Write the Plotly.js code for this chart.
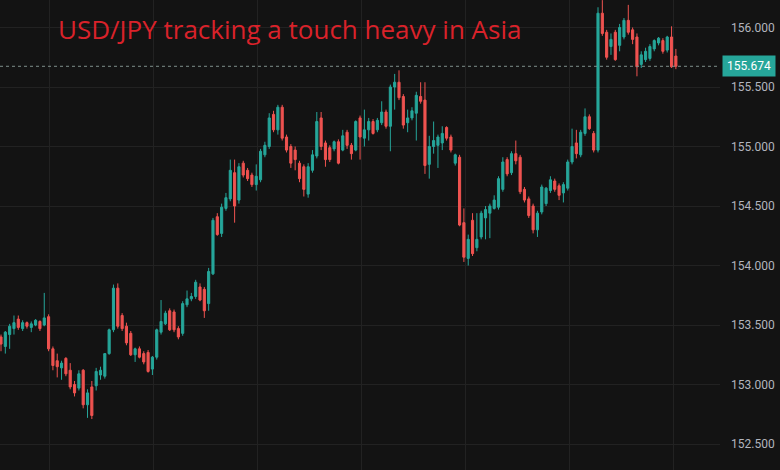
<!DOCTYPE html>
<html>
<head>
<meta charset="utf-8">
<script src="https://cdn.plot.ly/plotly-3.0.1.min.js"></script>
<style>
  html, body { margin: 0; padding: 0; background: #131313; }
  #chart { width: 780px; height: 470px; }
</style>
</head>
<body>
<div id="chart"></div>
<script>
const titleText = "USD/JPY tracking a touch heavy in Asia";
const priceTicks = [152.5, 153.0, 153.5, 154.0, 154.5, 155.0, 155.5, 156.0];

const open = [
153.40,153.32,153.42,153.47,153.55,153.47,153.52,153.48,153.50,153.53,
153.50,153.57,153.30,153.20,153.14,153.22,153.12,153.00,152.97,153.12,
152.83,152.98,152.99,153.08,153.07,153.26,153.46,153.81,153.58,153.49,
153.43,153.25,153.30,153.26,153.27,153.13,153.23,153.44,153.51,153.62,
153.61,153.47,153.43,153.67,153.72,153.74,153.82,153.80,153.68,153.93,
154.41,154.27,154.48,154.56,154.78,154.55,154.86,154.80,154.76,154.68,
154.72,154.93,155.00,155.27,155.14,155.33,155.08,155.00,154.97,154.86,
154.83,154.60,154.80,154.92,155.24,155.03,154.99,154.98,155.04,154.97,
155.12,155.01,154.97,155.24,155.07,155.14,155.21,155.14,155.20,155.29,
155.17,155.50,155.54,155.42,155.20,155.24,155.28,155.42,155.39,154.85,
155.00,155.01,155.03,155.16,155.08,154.86,154.91,154.36,154.06,154.38,
154.15,154.24,154.40,154.44,154.48,154.49,154.64,154.89,154.78,154.94,
154.91,154.64,154.56,154.50,154.30,154.45,154.52,154.63,154.71,154.67,
154.61,154.65,154.87,155.03,154.93,155.11,155.25,155.11,154.97,156.12,
155.96,155.84,155.96,155.85,155.92,156.06,155.98,155.92,155.69,155.73,
155.74,155.82,155.87,155.89,155.81,155.92,155.76];

const high = [
153.42,153.45,153.51,153.58,153.58,153.54,153.53,153.53,153.55,153.54,
153.77,153.59,153.32,153.26,153.20,153.23,153.18,153.03,153.12,153.13,
152.96,153.03,153.14,153.15,153.26,153.47,153.84,153.85,153.60,153.52,
153.45,153.31,153.32,153.28,153.29,153.24,153.47,153.71,153.62,153.64,
153.63,153.49,153.70,153.79,153.77,153.88,153.85,153.82,153.98,154.40,
154.44,154.52,154.61,154.89,154.89,154.86,154.88,154.82,154.78,154.85,
154.98,155.04,155.28,155.30,155.35,155.35,155.10,155.02,155.00,154.88,
154.85,154.86,154.97,155.29,155.29,155.05,155.01,155.05,155.06,155.14,
155.14,155.03,155.22,155.26,155.31,155.24,155.23,155.24,155.38,155.31,
155.52,155.61,155.64,155.44,155.31,155.33,155.46,155.54,155.54,155.09,
155.21,155.10,155.17,155.17,155.10,154.94,154.93,154.48,154.26,154.44,
154.44,154.46,154.50,154.52,154.59,154.75,154.91,154.91,154.96,155.05,
154.93,154.66,154.58,154.52,154.46,154.68,154.66,154.75,154.73,154.69,
154.70,154.89,155.15,155.14,155.14,155.32,155.27,155.13,156.17,156.23,
155.98,155.95,155.98,156.03,156.08,156.19,156.00,155.95,155.80,155.83,
155.86,155.90,155.92,155.91,155.93,156.01,155.82];

const low = [
153.28,153.26,153.30,153.42,153.46,153.45,153.47,153.44,153.49,153.45,
153.49,153.28,153.12,153.06,153.04,153.07,152.96,152.90,152.95,152.80,
152.72,152.71,152.95,153.04,153.05,153.25,153.44,153.47,153.45,153.33,
153.24,153.19,153.22,153.17,153.10,153.08,153.21,153.42,153.50,153.45,
153.44,153.38,153.41,153.65,153.70,153.72,153.70,153.56,153.62,153.92,
154.25,154.24,154.46,154.54,154.36,154.52,154.74,154.71,154.66,154.63,
154.70,154.91,154.98,155.12,155.10,155.05,154.95,154.82,154.80,154.70,
154.58,154.57,154.78,154.90,154.97,154.83,154.87,154.96,154.85,154.96,
154.98,154.89,154.96,154.89,155.00,155.05,155.10,155.12,155.18,155.15,
154.96,155.31,155.39,155.15,155.12,155.22,155.05,155.36,154.77,154.73,
154.94,154.82,154.97,155.05,154.95,154.84,154.33,154.03,154.00,154.08,
154.12,154.22,154.22,154.23,154.47,154.47,154.62,154.75,154.76,154.85,
154.60,154.53,154.40,154.27,154.24,154.43,154.50,154.61,154.62,154.55,
154.53,154.63,154.85,154.90,154.91,155.09,155.14,154.95,154.95,155.93,
155.73,155.77,155.72,155.80,155.90,155.94,155.86,155.59,155.66,155.71,
155.72,155.80,155.85,155.78,155.79,155.66,155.65];

const close = [
153.34,153.44,153.49,153.52,153.48,153.52,153.49,153.51,153.54,153.47,
153.56,153.30,153.16,153.15,153.18,153.09,152.98,152.93,153.09,152.83,
152.93,152.74,153.11,153.12,153.26,153.46,153.81,153.49,153.47,153.35,
153.25,153.30,153.23,153.19,153.11,153.23,153.46,153.53,153.60,153.46,
153.46,153.40,153.68,153.72,153.74,153.86,153.71,153.62,153.95,154.38,
154.26,154.49,154.57,154.80,154.50,154.83,154.76,154.73,154.68,154.75,
154.96,155.01,155.24,155.14,155.33,155.07,154.97,154.86,154.89,154.73,
154.64,154.83,154.93,155.21,155.00,154.89,154.89,155.04,154.86,155.09,
155.01,154.94,155.21,155.08,155.14,155.21,155.11,155.22,155.29,155.17,
155.50,155.54,155.41,155.18,155.24,155.30,155.43,155.38,154.84,155.00,
155.05,155.08,155.11,155.07,154.97,154.93,154.34,154.07,154.22,154.10,
154.22,154.44,154.47,154.50,154.55,154.73,154.87,154.77,154.94,154.88,
154.62,154.55,154.42,154.30,154.44,154.66,154.65,154.72,154.64,154.59,
154.68,154.87,155.00,154.94,155.12,155.25,155.15,154.97,156.12,155.95,
155.75,155.90,155.73,156.00,156.06,155.96,155.90,155.67,155.77,155.80,
155.84,155.89,155.91,155.80,155.92,155.67,155.674];

const bar = close.map((_, i) => i);
const lastPrice = close[close.length - 1];

const UP = '#26a69a', DOWN = '#ef5350';

const trace = {
  type: 'candlestick',
  x: bar, open: open, high: high, low: low, close: close,
  increasing: { line: { color: UP, width: 1 }, fillcolor: UP },
  decreasing: { line: { color: DOWN, width: 1 }, fillcolor: DOWN },
  whiskerwidth: 0,
  hoverinfo: 'skip'
};

const layout = {
  width: 780, height: 470,
  margin: { l: 0, r: 60, t: 0, b: 0, pad: 0 },
  paper_bgcolor: '#131313',
  plot_bgcolor: '#131313',
  showlegend: false,
  boxgap: 0.3,
  xaxis: {
    range: [-0.23, 166.2],
    rangeslider: { visible: false },
    showticklabels: false,
    ticks: '',
    tick0: 11.1, dtick: 24.04,
    showgrid: true, gridcolor: '#222222', gridwidth: 1,
    zeroline: false, showline: false
  },
  yaxis: {
    side: 'right',
    range: [152.282, 156.231],
    tickvals: priceTicks,
    tickformat: '.3f',
    ticks: '',
    ticklabelstandoff: 10,
    tickfont: { family: 'Roboto, sans-serif', size: 12, color: '#b2b5be' },
    showgrid: true, gridcolor: '#222222', gridwidth: 1,
    zeroline: false, showline: false
  },
  shapes: [{
    type: 'line', xref: 'paper', x0: 0, x1: 1, yref: 'y', y0: lastPrice, y1: lastPrice,
    line: { color: '#7f8f8c', width: 1, dash: 'dot' }
  }],
  annotations: [
    {
      text: titleText, xref: 'paper', yref: 'paper',
      x: 56 / 720, y: 1 - 29 / 470, xanchor: 'left', yanchor: 'middle',
      showarrow: false,
      font: { family: '"Open Sans", sans-serif', size: 26, color: '#d9222a' }
    },
    {
      text: lastPrice.toFixed(3), xref: 'paper', yref: 'y',
      x: 1, y: lastPrice, xanchor: 'left', yanchor: 'middle', xshift: 2,
      showarrow: false, bgcolor: UP, borderpad: 3, width: 46,
      font: { family: 'Roboto, sans-serif', size: 12, color: '#ffffff' }
    }
  ]
};

Plotly.newPlot('chart', [trace], layout, { staticPlot: true, displayModeBar: false });
</script>
</body>
</html>
